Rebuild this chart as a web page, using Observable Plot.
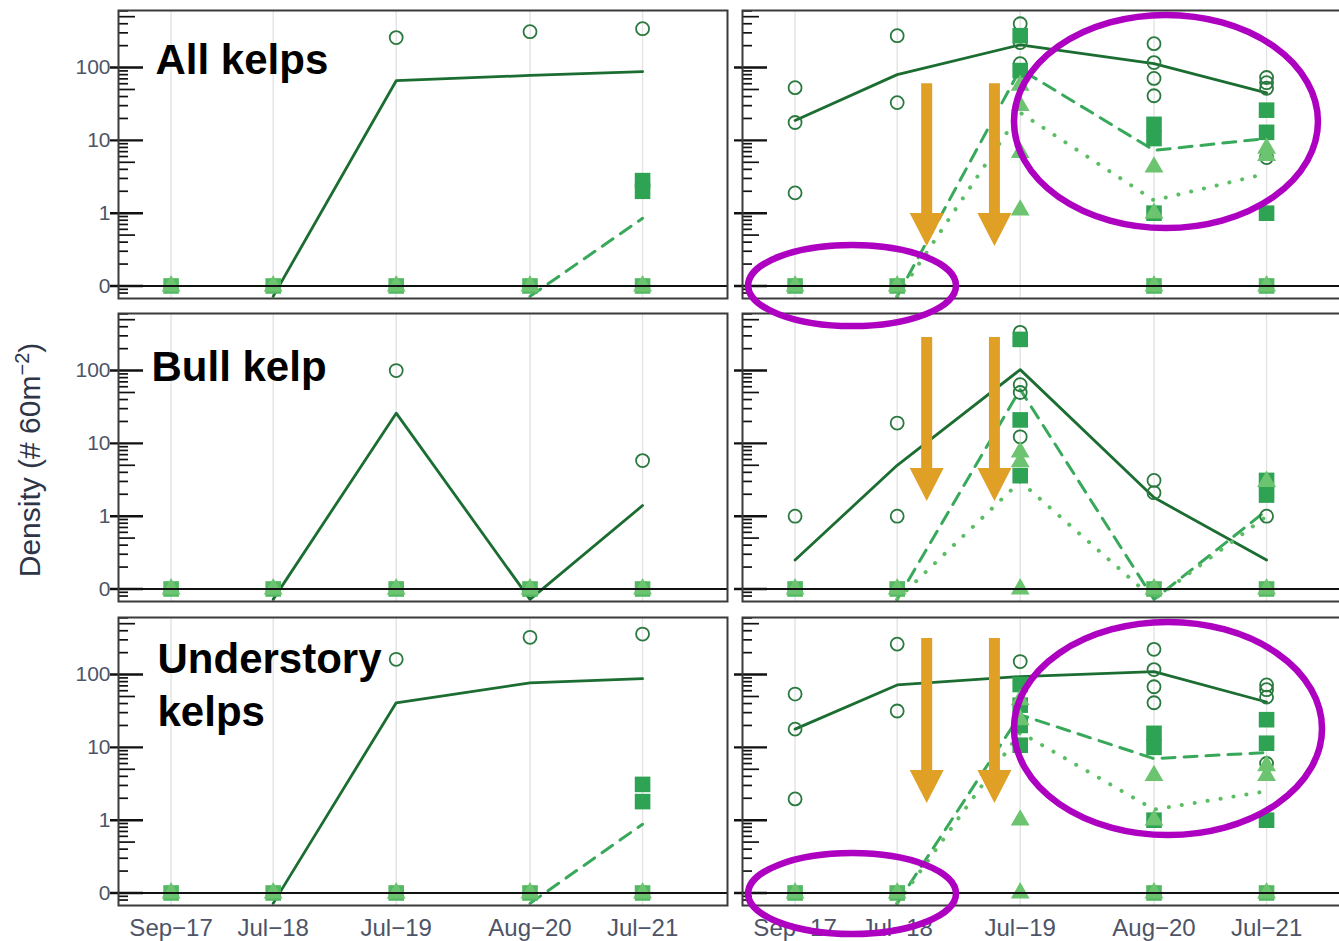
<!DOCTYPE html>
<html>
<head>
<meta charset="utf-8">
<script src="https://cdn.jsdelivr.net/npm/d3@7"></script>
<script src="https://cdn.jsdelivr.net/npm/@observablehq/plot@0.6"></script>
<style>
  html, body { margin:0; padding:0; background:#fff; overflow:hidden; }
  #root { position:relative; width:1339px; height:941px; overflow:hidden; background:#fff; }
  #root > svg { position:absolute; overflow:visible; max-width:none; }
</style>
</head>
<body>
<div id="root"></div>
<script>
// ---------------- data ----------------
const DATE_LABELS = ["Sep\u221217", "Jul\u221218", "Jul\u221219", "Aug\u221220", "Jul\u221221"];
const SURVEY_DATES = ["2017-09-15", "2018-07-15", "2019-07-15", "2020-08-15", "2021-07-15"];
const PANEL_TITLES = ["All kelps", "Bull kelp", "Understory\nkelps"];
const Y_TICK_VALUES = [0.1, 1, 10, 100];
const Y_TICK_LABELS = ["0", "1", "10", "100"];
const MINOR_TICKS = [0.08, 0.09, 0.2, 0.3, 0.4, 0.6, 0.7, 0.8, 0.9, 2, 3, 4, 6, 7, 8, 9, 20, 30, 40, 60, 70, 80, 90, 200, 300, 400, 600];
const MID_TICKS = [0.5, 5, 50, 500];

// All kelps
const allLeftSolid = [null, 0, 66, 78, 88];
const allLeftDashed = [null, null, null, 0, 0.85];
const allLeftDotted = [null, null, null, null, null];
const allLeftCircles = [[2, 258], [3, 311], [4, 342]];
const allLeftSquares = [[0, 0], [1, 0], [2, 0], [3, 0], [4, 0], [4, 2.8], [4, 2.0]];
const allLeftTriangles = [[0, 0], [1, 0], [2, 0], [3, 0], [4, 0]];

const allRightSolid = [18.8, 80, 205, 113, 45];
const allRightDashed = [null, 0, 95, 7.3, 10.6];
const allRightDotted = [null, 0, 24, 1.5, 3.5];
const allRightCircles = [[0, 53], [0, 17.6], [0, 1.9], [1, 274], [1, 33], [2, 400], [2, 220], [2, 113],
  [3, 213], [3, 117], [3, 71], [3, 41], [4, 73], [4, 62], [4, 52], [4, 5.8]];
const allRightSquares = [[0, 0], [1, 0], [2, 274], [2, 91], [3, 16.6], [3, 10.6], [3, 1.0], [3, 0],
  [4, 26], [4, 12.9], [4, 1.0], [4, 0]];
const allRightTriangles = [[0, 0], [1, 0], [2, 57], [2, 30], [2, 6.8], [2, 1.1], [3, 4.3], [3, 1.0], [3, 0],
  [4, 7.8], [4, 6.2], [4, 0]];

// Bull kelp
const bullLeftSolid = [null, 0, 26, 0, 1.4];
const bullLeftDashed = [null, null, null, null, null];
const bullLeftDotted = [null, null, null, null, null];
const bullLeftCircles = [[2, 100], [4, 5.8]];
const bullLeftSquares = [[0, 0], [1, 0], [2, 0], [3, 0], [4, 0]];
const bullLeftTriangles = [[0, 0], [1, 0], [2, 0], [3, 0], [4, 0]];

const bullRightSolid = [0.25, 5.0, 103, 1.8, 0.25];
const bullRightDashed = [null, 0, 55, 0, 1.2];
const bullRightDotted = [null, 0, 3.0, 0, 1.0];
const bullRightCircles = [[0, 1.0], [1, 19], [1, 1.0], [2, 335], [2, 64], [2, 50], [2, 12.3],
  [3, 3.1], [3, 2.1], [4, 1.0]];
const bullRightSquares = [[0, 0], [1, 0], [2, 268], [2, 21], [2, 3.6], [3, 0], [4, 3.1], [4, 1.95], [4, 0]];
const bullRightTriangles = [[0, 0], [1, 0], [2, 7.6], [2, 5.6], [2, 0], [3, 0], [4, 3.0], [4, 0]];

// Understory kelps
const underLeftSolid = [null, 0, 41, 77, 88];
const underLeftDashed = [null, null, null, 0, 0.88];
const underLeftDotted = [null, null, null, null, null];
const underLeftCircles = [[2, 162], [3, 325], [4, 360]];
const underLeftSquares = [[0, 0], [1, 0], [2, 0], [3, 0], [4, 0], [4, 3.1], [4, 1.8]];
const underLeftTriangles = [[0, 0], [1, 0], [2, 0], [3, 0], [4, 0]];

const underRightSolid = [17.8, 72, 94, 110, 42];
const underRightDashed = [null, 0, 28, 7.0, 8.5];
const underRightDotted = [null, 0, 16, 1.4, 2.5];
const underRightCircles = [[0, 54], [0, 17.8], [0, 1.96], [1, 262], [1, 31.6], [2, 151],
  [3, 222], [3, 117], [3, 68], [3, 41], [4, 72], [4, 62], [4, 49], [4, 6.0]];
const underRightSquares = [[0, 0], [1, 0], [2, 73], [2, 38], [2, 20], [2, 10.7], [3, 15.6], [3, 10], [3, 1.0], [3, 0],
  [4, 24], [4, 11.4], [4, 1.0], [4, 0]];
const underRightTriangles = [[0, 0], [1, 0], [2, 45], [2, 24], [2, 1.0], [2, 0], [3, 4.1], [3, 1.0], [3, 0],
  [4, 5.6], [4, 4.1], [4, 0]];

// annotations (data coordinates, right-hand column)
const ARROW_ROWS = [0, 0, 1, 1, 2, 2];
const ARROW_DATES = ["2018-10-12", "2019-05-01", "2018-10-12", "2019-05-01", "2018-10-12", "2019-05-01"];
const ARROW_TOP = [60, 60, 284, 284, 313, 313];
const ARROW_TIP = [0.348, 0.348, 1.59, 1.59, 1.69, 1.69];

const ELLIPSE_ROWS = [0, 0, 2, 2];
const ELLIPSE_X1 = ["2019-06-28", "2017-04-30", "2019-06-28", "2017-04-30"];
const ELLIPSE_X2 = ["2021-12-16", "2019-01-07", "2021-12-28", "2019-01-07"];
const ELLIPSE_TOP = [519, 0.36, 519, 0.348];
const ELLIPSE_BOTTOM = [0.615, 0.0277, 0.615, 0.0269];

// ---------------- build ----------------
const SERIES = {
  "0L": {solid: allLeftSolid, dashed: allLeftDashed, dotted: allLeftDotted, circles: allLeftCircles, squares: allLeftSquares, triangles: allLeftTriangles},
  "0R": {solid: allRightSolid, dashed: allRightDashed, dotted: allRightDotted, circles: allRightCircles, squares: allRightSquares, triangles: allRightTriangles},
  "1L": {solid: bullLeftSolid, dashed: bullLeftDashed, dotted: bullLeftDotted, circles: bullLeftCircles, squares: bullLeftSquares, triangles: bullLeftTriangles},
  "1R": {solid: bullRightSolid, dashed: bullRightDashed, dotted: bullRightDotted, circles: bullRightCircles, squares: bullRightSquares, triangles: bullRightTriangles},
  "2L": {solid: underLeftSolid, dashed: underLeftDashed, dotted: underLeftDotted, circles: underLeftCircles, squares: underLeftSquares, triangles: underLeftTriangles},
  "2R": {solid: underRightSolid, dashed: underRightDashed, dotted: underRightDotted, circles: underRightCircles, squares: underRightSquares, triangles: underRightTriangles}
};

const FONT = "'Liberation Sans', Arial, Helvetica, sans-serif";
const NARROW = "'Liberation Sans Narrow', 'Liberation Sans', Arial, sans-serif";
const parse = s => new Date(s + "T00:00:00Z");
const DATES = SURVEY_DATES.map(parse);
const X_DOMAIN = [parse("2017-04-12"), parse("2022-03-24")];
const Y_DOMAIN = [0.0673, 608];
const ZERO_MARK = 0.1, ZERO_LINE = 0.072;

const LAYOUT = {frameTops: [10, 313, 617], frameH: 288, frameW: 609, colLeft: [118, 742], gutter: 20};
const TITLE_OFFSETS = [[37, 27], [33, 31], [39, 19]];
const COLORS = {solid: "#1b6d31", circle: "#2a7a3f", square: "#2ea353", zeroSquare: "#52b861", triangle: "#6cc470",
  dashed: "#38a85a", dotted: "#5cbd64", axisText: "#4d5468"};

const lineData = vals => vals.map((v, i) => ({date: DATES[i], v: v === null ? NaN : (v === 0 ? ZERO_LINE : v)}));
const pointData = pairs => pairs.map(([i, v]) => ({date: DATES[i], v: v === 0 ? ZERO_MARK : v, zero: v === 0}));

const root = document.getElementById("root");
const charts = {};

PANEL_TITLES.forEach((title, r) => {
  ["L", "R"].forEach((side, c) => {
    const key = r + side;
    const s = SERIES[key];
    const bottom = r === 2;
    const mL = c === 0 ? LAYOUT.colLeft[0] : LAYOUT.gutter;
    const mR = 6, mT = 10, mB = bottom ? 36 : 8;
    const W = LAYOUT.frameW;
    const marks = [
      Plot.ruleX(DATES, {stroke: "#e3e3e3", strokeWidth: 1.4}),
      Plot.tickY(MINOR_TICKS, {y: d => d, insetRight: W - 10, stroke: "#111", strokeWidth: 1.7}),
      Plot.tickY(MID_TICKS, {y: d => d, insetRight: W - 17, stroke: "#111", strokeWidth: 1.7}),
      Plot.tickY(Y_TICK_VALUES, {y: d => d, insetLeft: -8, insetRight: W - 25, stroke: "#111", strokeWidth: 2.4}),
      Plot.line(lineData(s.solid), {x: "date", y: "v", stroke: COLORS.solid, strokeWidth: 2.8}),
      Plot.line(lineData(s.dashed), {x: "date", y: "v", stroke: COLORS.dashed, strokeWidth: 3, strokeDasharray: "13,9"}),
      Plot.line(lineData(s.dotted), {x: "date", y: "v", stroke: COLORS.dotted, strokeWidth: 4, strokeDasharray: "0.1,13", strokeLinecap: "round"}),
      Plot.dot(pointData(s.circles), {x: "date", y: "v", r: 6.5, stroke: COLORS.circle, strokeWidth: 1.8, fill: "none"}),
      Plot.dot(pointData(s.squares), {x: "date", y: "v", symbol: "square", r: 8.8,
        fill: d => d.zero ? COLORS.zeroSquare : COLORS.square}),
      Plot.dot(pointData(s.triangles), {x: "date", y: "v", symbol: "triangle", r: 7, fill: COLORS.triangle}),
      Plot.ruleY([ZERO_MARK], {stroke: "#111", strokeWidth: 2}),
      Plot.frame({stroke: "#3a3a3a", strokeWidth: 2})
    ];
    if (c === 0) {
      marks.push(Plot.text([title], {
        text: d => d, frameAnchor: "top-left", dx: TITLE_OFFSETS[r][0], dy: TITLE_OFFSETS[r][1],
        textAnchor: "start", lineAnchor: "top", lineHeight: 1.24,
        fontSize: 42, fontWeight: "bold", fill: "#000"
      }));
      marks.push(Plot.text(Y_TICK_VALUES, {
        y: d => d, text: (d, i) => Y_TICK_LABELS[i], frameAnchor: "left", dx: -8,
        textAnchor: "end", fontSize: 21, fontFamily: NARROW, fill: COLORS.axisText
      }));
    }
    if (bottom) {
      marks.push(Plot.text(DATES, {
        x: d => d, text: (d, i) => DATE_LABELS[i], frameAnchor: "bottom", dy: 23,
        lineAnchor: "middle", fontSize: 24, fill: COLORS.axisText
      }));
    }
    const svg = Plot.plot({
      width: mL + W + mR,
      height: mT + LAYOUT.frameH + mB,
      marginLeft: mL, marginRight: mR, marginTop: mT, marginBottom: mB,
      style: {background: "transparent", overflow: "visible", fontFamily: FONT},
      x: {type: "utc", domain: X_DOMAIN, axis: null},
      y: {type: "log", domain: Y_DOMAIN, axis: null},
      marks
    });
    const left = LAYOUT.colLeft[c] - mL, top = LAYOUT.frameTops[r] - mT;
    svg.style.left = left + "px";
    svg.style.top = top + "px";
    root.appendChild(svg);
    charts[key] = {svg, left, top};
  });
});

// ---------------- overlay: axis title + annotations ----------------
const ov = d3.select(root).append("svg")
  .attr("width", 1339).attr("height", 941)
  .style("left", "0px").style("top", "0px")
  .style("font-family", FONT);

const yl = ov.append("text")
  .attr("transform", "translate(40,460) rotate(-90)")
  .attr("text-anchor", "middle")
  .attr("font-size", 30)
  .attr("fill", "#2d3547");
yl.append("tspan").text("Density (# 60m");
yl.append("tspan").attr("baseline-shift", "super").attr("font-size", 20).text("\u22122");
yl.append("tspan").text(")");

function toPx(row, date, v) {
  const ch = charts[row + "R"];
  return [ch.left + ch.svg.scale("x").apply(parse(date)), ch.top + ch.svg.scale("y").apply(v)];
}

ARROW_ROWS.forEach((row, i) => {
  const [x, y0] = toPx(row, ARROW_DATES[i], ARROW_TOP[i]);
  const [, y1] = toPx(row, ARROW_DATES[i], ARROW_TIP[i]);
  const sw = 5.5, hw = 17, hl = 33;
  const pts = [[x - sw, y0], [x + sw, y0], [x + sw, y1 - hl], [x + hw, y1 - hl], [x, y1], [x - hw, y1 - hl], [x - sw, y1 - hl]];
  ov.append("polygon").attr("points", pts.map(p => p.join(",")).join(" ")).attr("fill", "#e0a026");
});

ELLIPSE_ROWS.forEach((row, i) => {
  const [xa, ya] = toPx(row, ELLIPSE_X1[i], ELLIPSE_TOP[i]);
  const [xb, yb] = toPx(row, ELLIPSE_X2[i], ELLIPSE_BOTTOM[i]);
  ov.append("ellipse")
    .attr("cx", (xa + xb) / 2).attr("cy", (ya + yb) / 2)
    .attr("rx", Math.abs(xb - xa) / 2).attr("ry", Math.abs(yb - ya) / 2)
    .attr("fill", "none").attr("stroke", "#ad00c1").attr("stroke-width", 6.5);
});
</script>
</body>
</html>
